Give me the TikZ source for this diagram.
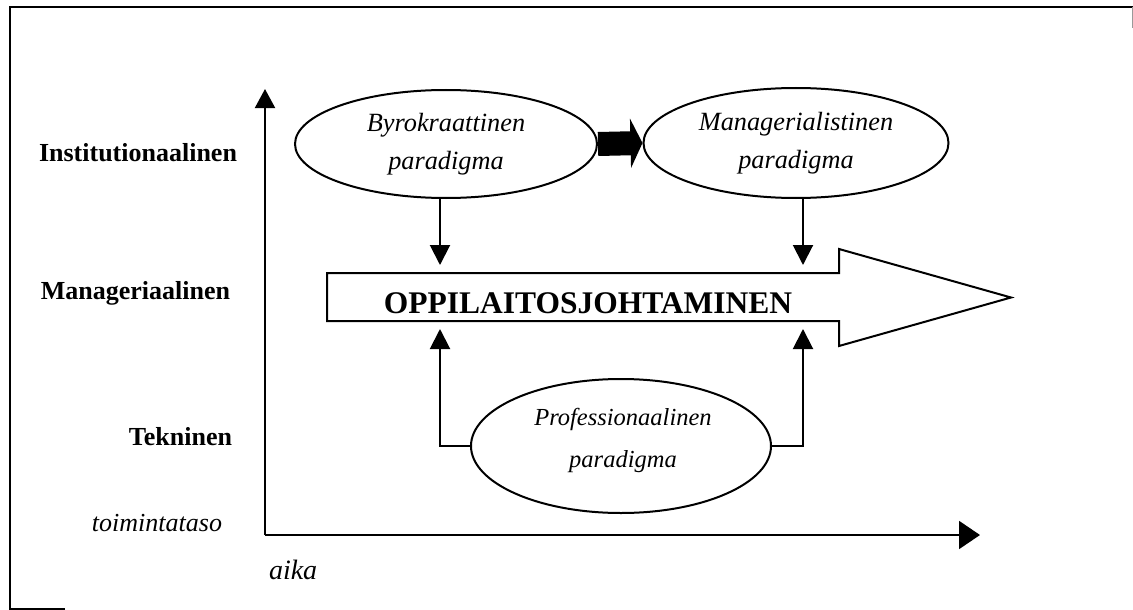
\documentclass[tikz,border=0pt]{standalone}
\usepackage{fontspec}
\setmainfont{Liberation Serif}
\usetikzlibrary{arrows.meta,shapes.geometric}

\begin{document}
\begin{tikzpicture}[x=1pt,y=-1pt,
  line width=2pt,
  level/.style={anchor=east, inner sep=0pt, font=\fontsize{26}{30}\selectfont\bfseries},
  axislabel/.style={inner sep=0pt, font=\fontsize{26}{30}\selectfont\itshape},
  para/.style={ellipse, draw, line width=2pt, inner sep=0pt, align=center,
    font=\fontsize{26.3}{38}\selectfont\itshape},
  paratext/.style={inner sep=0pt, align=center, font=\fontsize{24.5}{42}\selectfont\itshape},
  lead/.style={-{Triangle[length=20pt,width=20pt]}, shorten >=8pt},
]
\useasboundingbox (0,0) rectangle (1133,610);

% page frame
\draw (65,609) -- (10,609) -- (10,7) -- (1133,7);
\draw[line width=1pt, black!40] (1132,7) -- (1132,28);

% axes: level of action against time
\coordinate (O) at (265,535);
\coordinate (ytop) at (265,89);
\coordinate (xend) at (980,535);
\draw[-{Triangle[length=19pt,width=20pt]}] (O) -- (ytop);
\draw[-{Triangle[length=21pt,width=28pt]}] (O) -- (xend);

% level labels
\node[level] (inst) at (238,153) {Institutionaalinen};
\node[level] (mgr) at (231,293) {Manageriaalinen};
\node[level] (tek) at (233,437) {Tekninen};
\node[axislabel, anchor=east] (taso) at (223,523) {toimintataso};
\node[axislabel, anchor=west, font=\fontsize{28}{30}\selectfont\itshape] (aika) at (268,570) {aika};

% paradigms
\node[para, minimum width=302pt, minimum height=108pt] (byro) at (446,144) {Byrokraattinen\\paradigma};
\node[para, minimum width=305pt, minimum height=110pt] (mana) at (796,143) {Managerialistinen\\paradigma};
\node[para, minimum width=300pt, minimum height=134pt] (prof) at (621,446) {};
\node[paratext] (proftext) at (623,440) {Professionaalinen\\paradigma};

% shift from bureaucratic to managerial paradigm
\draw[line width=24pt, -{Triangle[length=12pt,width=49pt]}] (byro.east) -- (mana.west);

% the wide arrow of school leadership
\coordinate (inL) at (440,273);
\coordinate (inR) at (803,273);
\coordinate (outL) at (440,321);
\coordinate (outR) at (803,321);
\draw[line join=miter] (327,273) -- (839,273) -- (839,249) -- (1011,297.5)
  -- (839,346) -- (839,321) -- (327,321) -- cycle;
\node[anchor=base, inner sep=0pt, font=\fontsize{31.5}{36}\selectfont\bfseries] (oj) at (588,313) {OPPILAITOSJOHTAMINEN};

% influences on leadership
\draw[lead] (byro.south -| inL) -- (inL);
\draw[lead] (mana.south -| inR) -- (inR);
\draw[lead] (prof.west) -| (outL);
\draw[lead] (prof.east) -| (outR);
\end{tikzpicture}
\end{document}
